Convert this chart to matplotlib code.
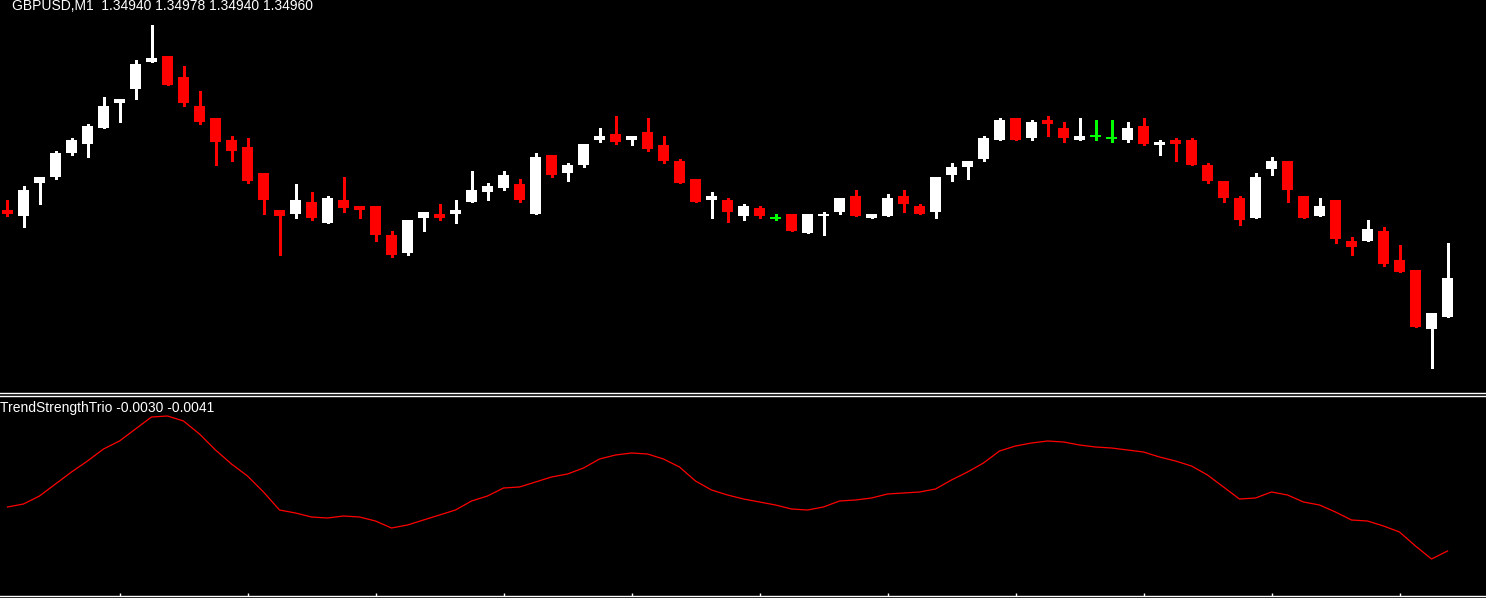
import numpy as np
import matplotlib.pyplot as plt

# GBPUSD M1 candles
opens = [1.34995, 1.34992, 1.35009, 1.35012, 1.35024, 1.35029, 1.35037, 1.35050, 1.35057, 1.35071,
         1.35074, 1.35063, 1.35048, 1.35042, 1.35031, 1.35027, 1.35014, 1.34995, 1.34993, 1.34999,
         1.34988, 1.35000, 1.34997, 1.34997, 1.34982, 1.34973, 1.34991, 1.34993, 1.34993, 1.34999,
         1.35004, 1.35006, 1.35008, 1.34993, 1.35023, 1.35014, 1.35018, 1.35031, 1.35034, 1.35031,
         1.35035, 1.35028, 1.35020, 1.35011, 1.35000, 1.35000, 1.34992, 1.34996, 1.34991, 1.34993,
         1.34983, 1.34992, 1.34994, 1.35002, 1.34991, 1.34992, 1.35002, 1.34997, 1.34994, 1.35013,
         1.35017, 1.35021, 1.35031, 1.35042, 1.35032, 1.35041, 1.35037, 1.35031, 1.35033, 1.35032,
         1.35031, 1.35038, 1.35028, 1.35031, 1.35031, 1.35018, 1.35010, 1.35001, 1.34991, 1.35016,
         1.35020, 1.35002, 1.34992, 1.35000, 1.34979, 1.34979, 1.34984, 1.34969, 1.34964, 1.34934,
         1.34940]
highs = [1.35000, 1.35007, 1.35012, 1.35025, 1.35032, 1.35039, 1.35053, 1.35052, 1.35072, 1.35090,
         1.35074, 1.35069, 1.35056, 1.35042, 1.35033, 1.35032, 1.35014, 1.34995, 1.35008, 1.35004,
         1.35002, 1.35012, 1.34997, 1.34997, 1.34984, 1.34990, 1.34994, 1.34998, 1.35000, 1.35015,
         1.35009, 1.35015, 1.35011, 1.35024, 1.35023, 1.35019, 1.35029, 1.35037, 1.35043, 1.35033,
         1.35042, 1.35033, 1.35021, 1.35011, 1.35004, 1.35001, 1.34998, 1.34997, 1.34993, 1.34993,
         1.34993, 1.34994, 1.35001, 1.35005, 1.34993, 1.35003, 1.35005, 1.34998, 1.35012, 1.35019,
         1.35020, 1.35033, 1.35042, 1.35042, 1.35041, 1.35043, 1.35040, 1.35042, 1.35041, 1.35041,
         1.35040, 1.35042, 1.35031, 1.35032, 1.35032, 1.35019, 1.35010, 1.35002, 1.35014, 1.35022,
         1.35020, 1.35002, 1.35001, 1.35000, 1.34981, 1.34990, 1.34986, 1.34977, 1.34964, 1.34942,
         1.34978]
lows = [1.34992, 1.34986, 1.34998, 1.35011, 1.35023, 1.35022, 1.35037, 1.35040, 1.35052, 1.35071,
        1.35059, 1.35048, 1.35039, 1.35018, 1.35020, 1.35009, 1.34993, 1.34972, 1.34991, 1.34990,
        1.34988, 1.34994, 1.34991, 1.34979, 1.34971, 1.34972, 1.34984, 1.34990, 1.34988, 1.34999,
        1.35000, 1.35005, 1.34999, 1.34993, 1.35012, 1.35010, 1.35017, 1.35030, 1.35029, 1.35028,
        1.35025, 1.35019, 1.35009, 1.34999, 1.34991, 1.34989, 1.34990, 1.34991, 1.34990, 1.34984,
        1.34983, 1.34982, 1.34993, 1.34992, 1.34991, 1.34992, 1.34994, 1.34993, 1.34991, 1.35010,
        1.35011, 1.35020, 1.35031, 1.35031, 1.35031, 1.35033, 1.35030, 1.35031, 1.35031, 1.35030,
        1.35030, 1.35028, 1.35023, 1.35020, 1.35018, 1.35009, 1.34999, 1.34987, 1.34991, 1.35013,
        1.34999, 1.34991, 1.34992, 1.34978, 1.34972, 1.34979, 1.34966, 1.34963, 1.34935, 1.34914,
        1.34940]
closes = [1.34993, 1.35005, 1.35012, 1.35024, 1.35031, 1.35038, 1.35048, 1.35052, 1.35070, 1.35073,
          1.35059, 1.35050, 1.35040, 1.35030, 1.35025, 1.35010, 1.35000, 1.34992, 1.35000, 1.34991,
          1.35001, 1.34996, 1.34995, 1.34982, 1.34972, 1.34990, 1.34994, 1.34991, 1.34995, 1.35005,
          1.35007, 1.35013, 1.35000, 1.35022, 1.35013, 1.35018, 1.35029, 1.35033, 1.35030, 1.35033,
          1.35026, 1.35020, 1.35009, 1.34999, 1.35002, 1.34994, 1.34997, 1.34992, 1.34991, 1.34984,
          1.34993, 1.34993, 1.35001, 1.34992, 1.34993, 1.35001, 1.34998, 1.34993, 1.35012, 1.35017,
          1.35020, 1.35032, 1.35041, 1.35031, 1.35040, 1.35039, 1.35032, 1.35033, 1.35033, 1.35032,
          1.35037, 1.35029, 1.35030, 1.35029, 1.35018, 1.35010, 1.35001, 1.34990, 1.35012, 1.35020,
          1.35005, 1.34991, 1.34997, 1.34980, 1.34976, 1.34985, 1.34967, 1.34963, 1.34935, 1.34942,
          1.34960]

# TrendStrengthTrio values (x1e-5)
trend = [-212, -206, -190, -166, -142, -120, -96, -80, -56, -32,
         -30, -40, -66, -98, -126, -150, -182, -218, -224, -232,
         -234, -230, -232, -240, -254, -248, -238, -228, -218, -200,
         -190, -174, -172, -162, -152, -146, -134, -116, -108, -104,
         -106, -116, -132, -160, -178, -188, -196, -202, -208, -216,
         -218, -212, -200, -198, -194, -186, -184, -182, -176, -158,
         -142, -124, -100, -90, -84, -80, -82, -88, -92, -94,
         -98, -102, -112, -120, -130, -148, -172, -196, -194, -182,
         -188, -202, -208, -222, -238, -240, -250, -262, -290, -316,
         -300]

symbol_label = "GBPUSD,M1  1.34940 1.34978 1.34940 1.34960"
indicator_label = "TrendStrengthTrio -0.0030 -0.0041"

W, H = 1486, 598
plt.rcParams['font.family'] = ['Liberation Sans', 'DejaVu Sans']

o = np.array(opens)
h = np.array(highs)
l = np.array(lows)
c = np.array(closes)
x = np.arange(len(o))

bull = np.round(c - o, 6) > 0
bear = np.round(c - o, 6) < 0
doji = ~(bull | bear)

fig = plt.figure(figsize=(W / 100, H / 100), dpi=100, facecolor='black')
ax = fig.add_axes([0, (H - 393) / H, 1, 393 / H])
ax2 = fig.add_axes([0, 2 / H, 1, 200 / H])

for a in (ax, ax2):
    a.set_facecolor('black')
    a.set_xlim(-7.5 / 16, (W - 7.5) / 16)
    for s in a.spines.values():
        s.set_visible(False)
    a.set_yticks([])

# candles
bw = 11 / 16
for mask, col in ((bull, 'white'), (bear, '#ff0000'), (doji, '#00ff00')):
    ax.vlines(x[mask], l[mask], h[mask], color=col, lw=0.9, antialiased=False)
for mask, col in ((bull, 'white'), (bear, '#ff0000')):
    bot = np.minimum(o, c)[mask]
    top = np.maximum(o, c)[mask]
    ax.bar(x[mask], top - bot, bottom=bot, width=bw, color=col, lw=0, antialiased=False)
ax.hlines(o[doji], x[doji] - bw / 2, x[doji] + bw / 2, color='#00ff00', lw=1.2, antialiased=False)

ax.set_ylim(1.3490103, 1.3510263)
ax.spines['bottom'].set_visible(True)
ax.spines['bottom'].set_color('white')
ax.spines['bottom'].set_linewidth(1.0)
ax.set_xticks([])

# indicator pane
ax2.plot(x, np.array(trend) * 1e-5, color='#ff0000', lw=0.9)
ax2.set_ylim(-0.0039, 0.0001)
for s in ('top', 'bottom'):
    ax2.spines[s].set_visible(True)
    ax2.spines[s].set_color('white')
    ax2.spines[s].set_linewidth(1.0)
ax2.set_xticks(np.arange(7, len(x), 8))
ax2.tick_params(axis='x', direction='in', length=2, width=1, color='white', labelbottom=False)

fig.text(12 / W, 1 - 10 / H, symbol_label, color='white', fontsize=10, va='baseline', ha='left')
fig.text(0 / W, 1 - 412 / H, indicator_label, color='white', fontsize=10, va='baseline', ha='left')

fig.savefig('out.png', dpi=100, facecolor='black')
